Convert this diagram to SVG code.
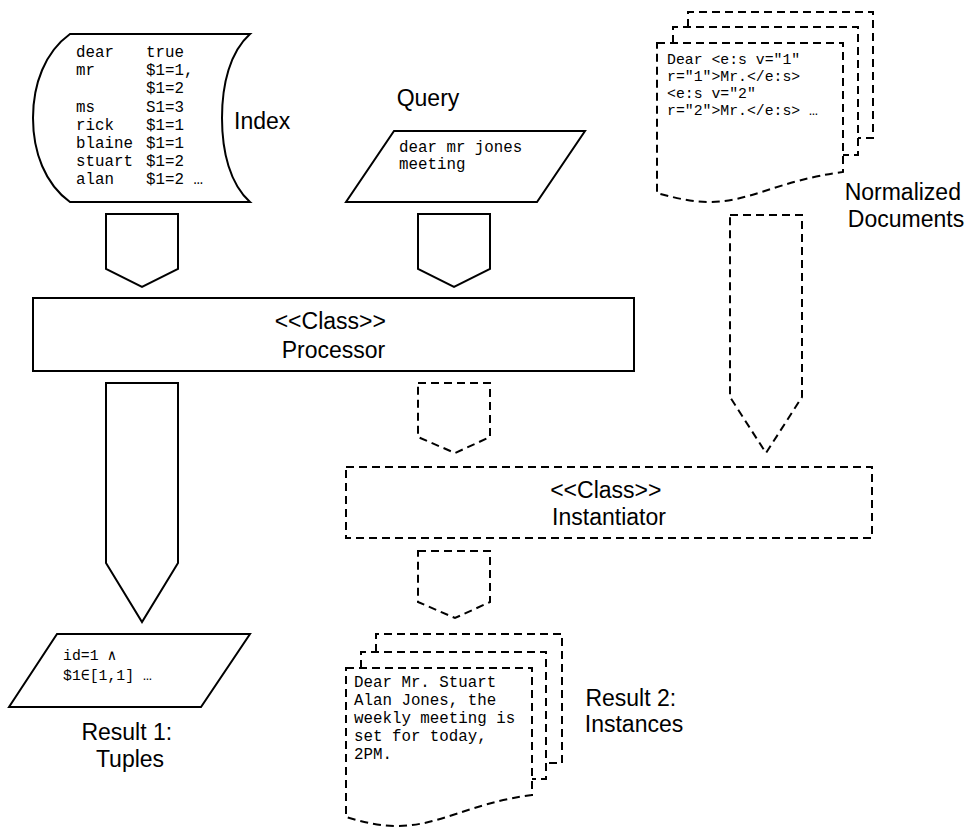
<svg xmlns="http://www.w3.org/2000/svg" width="975" height="828" viewBox="0 0 975 828">
  <style>
    .shape { fill: #ffffff; stroke: #000000; stroke-width: 2; stroke-linejoin: miter; }
    .dash { fill: #ffffff; stroke: #000000; stroke-width: 2; stroke-dasharray: 8 5; }
    .dashline { fill: none; stroke: #000000; stroke-width: 2; stroke-dasharray: 8 5; }
    .label { font-family: "Liberation Sans", Arial, sans-serif; font-size: 23px; fill: #000000; }
    .mid { text-anchor: middle; }
    .mono { font-family: "Liberation Mono", "Courier New", monospace; font-size: 15.8px; fill: #000000; }
    .mono-s { font-family: "Liberation Mono", "Courier New", monospace; font-size: 14.8px; fill: #000000; }
  </style>

  <!-- Stored index (drum-like storage shape) -->
  <g id="index">
    <path class="shape" d="M70,34 L250,34 C230,52 222,84 222,118 C222,152 230,184 250,202 L70,202 C45,184 33,152 33,118 C33,84 45,52 70,34 Z"/>
    <text class="mono">
      <tspan x="76" y="57">dear</tspan><tspan x="146" y="57">true</tspan>
      <tspan x="76" y="75">mr</tspan><tspan x="146" y="75">$1=1,</tspan>
      <tspan x="146" y="93">$1=2</tspan>
      <tspan x="76" y="112">ms</tspan><tspan x="146" y="112">S1=3</tspan>
      <tspan x="76" y="130">rick</tspan><tspan x="146" y="130">$1=1</tspan>
      <tspan x="76" y="148">blaine</tspan><tspan x="146" y="148">$1=1</tspan>
      <tspan x="76" y="166">stuart</tspan><tspan x="146" y="166">$1=2</tspan>
      <tspan x="76" y="184">alan</tspan><tspan x="146" y="184">$1=2 …</tspan>
    </text>
    <text class="label" x="234" y="129">Index</text>
  </g>

  <!-- Query input -->
  <g id="query">
    <text class="label mid" x="428" y="106">Query</text>
    <path class="shape" d="M394,131 L585,131 L537,202 L346,202 Z"/>
    <text class="mono">
      <tspan x="399" y="152">dear mr jones</tspan>
      <tspan x="399" y="169">meeting</tspan>
    </text>
  </g>

  <!-- Normalized documents (stack of pages) -->
  <g id="normalized-documents">
    <path class="dashline" d="M688,27 L688,12 L873,12 L873,138 L858,138"/>
    <path class="dashline" d="M673,43 L673,27 L858,27 L858,155 L843,155"/>
    <path class="dash" d="M657,43 L843,43 L843,172 C780,180 750,202 710,202 C690,202 672,197 657,193 Z"/>
    <text class="mono-s">
      <tspan x="667" y="64">Dear &lt;e:s v="1"</tspan>
      <tspan x="667" y="81">r="1"&gt;Mr.&lt;/e:s&gt;</tspan>
      <tspan x="667" y="98">&lt;e:s v="2"</tspan>
      <tspan x="667" y="115">r="2"&gt;Mr.&lt;/e:s&gt; …</tspan>
    </text>
    <text class="label mid">
      <tspan x="906" y="200">Normalized</tspan>
      <tspan x="906" y="227">Documents</tspan>
    </text>
  </g>

  <!-- Processor class -->
  <g id="processor">
    <rect class="shape" x="33" y="298" width="601" height="73"/>
    <text class="label mid">
      <tspan x="333.5" y="329">&lt;&lt;Class&gt;&gt;</tspan>
      <tspan x="333.5" y="358">Processor</tspan>
    </text>
  </g>

  <!-- Instantiator class -->
  <g id="instantiator">
    <rect class="dash" x="346" y="467" width="526" height="71"/>
    <text class="label mid">
      <tspan x="609" y="498">&lt;&lt;Class&gt;&gt;</tspan>
      <tspan x="609" y="525">Instantiator</tspan>
    </text>
  </g>

  <!-- Result 1: tuples -->
  <g id="result1">
    <path class="shape" d="M57,634 L250,634 L201,707 L9,707 Z"/>
    <text class="mono-s">
      <tspan x="63" y="660">id=1 ∧</tspan>
      <tspan x="63" y="680">$1∈[1,1] …</tspan>
    </text>
    <text class="label mid">
      <tspan x="130" y="740">Result 1:</tspan>
      <tspan x="130" y="767">Tuples</tspan>
    </text>
  </g>

  <!-- Result 2: instances (stack of pages) -->
  <g id="result2">
    <path class="dashline" d="M376,652 L376,634 L562,634 L562,763 L546,763"/>
    <path class="dashline" d="M361,668 L361,652 L546,652 L546,779 L532,779"/>
    <path class="dash" d="M346,668 L532,668 L532,795 C470,803 440,826 397,826 C377,826 360,821 346,817 Z"/>
    <text class="mono">
      <tspan x="354" y="687">Dear Mr. Stuart</tspan>
      <tspan x="354" y="705">Alan Jones, the</tspan>
      <tspan x="354" y="723">weekly meeting is</tspan>
      <tspan x="354" y="741">set for today,</tspan>
      <tspan x="354" y="759">2PM.</tspan>
    </text>
    <text class="label mid">
      <tspan x="634" y="706">Result 2:</tspan>
      <tspan x="634" y="732">Instances</tspan>
    </text>
  </g>

  <!-- Block arrows between the stages -->
  <g id="connectors">
    <path class="shape" d="M106,214 L178,214 L178,269 L142,287 L106,269 Z"/>
    <path class="shape" d="M418,214 L490,214 L490,269 L454,287 L418,269 Z"/>
    <path class="shape" d="M106,383 L178,383 L178,563 L142,622 L106,563 Z"/>
    <path class="dash" d="M418,383 L490,383 L490,437 L455,453 L418,437 Z"/>
    <path class="dash" d="M730,215 L802,215 L802,397 L766,453 L730,397 Z"/>
    <path class="dash" d="M418,551 L490,551 L490,602 L455,618 L418,602 Z"/>
  </g>
</svg>
